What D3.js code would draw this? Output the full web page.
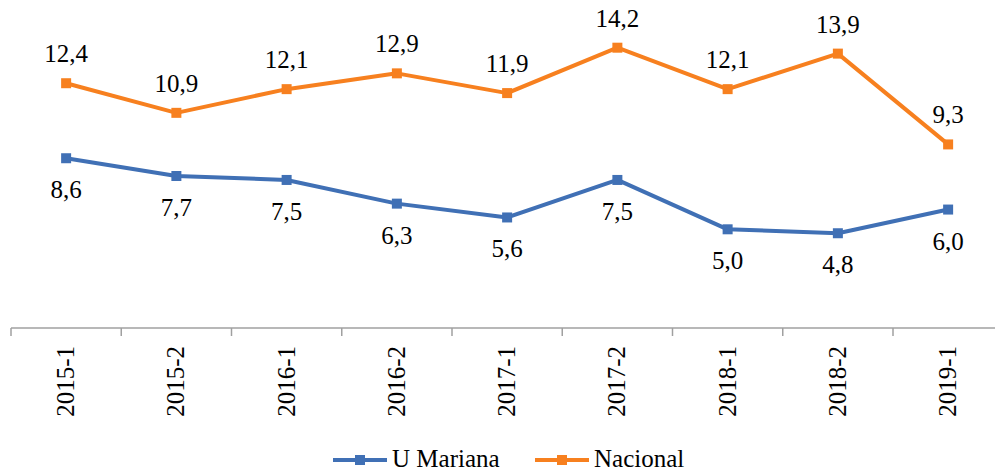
<!DOCTYPE html>
<html>
<head>
<meta charset="utf-8">
<script src="https://cdn.jsdelivr.net/npm/d3@7"></script>
</head>
<body style="margin:0">
<script>
// categories and series values
var periods = ["2015-1", "2015-2", "2016-1", "2016-2", "2017-1", "2017-2", "2018-1", "2018-2", "2019-1"];
var uMariana = [8.6, 7.7, 7.5, 6.3, 5.6, 7.5, 5.0, 4.8, 6.0];
var nacional = [12.4, 10.9, 12.1, 12.9, 11.9, 14.2, 12.1, 13.9, 9.3];
var seriesNames = ["U Mariana", "Nacional"];
var colors = ["#4070B5", "#F7801F"];

var W = 995, H = 471;
var margin = { top: 12, left: 11, bottom: 143 };
var bandW = 110.25;
var fontFam = "'Liberation Serif'";
var fontSize = "25px";

var svg = d3.select("body").append("svg")
  .attr("width", W)
  .attr("height", H)
  .style("display", "block")
  .style("font-family", fontFam);

// x scale: band per period
var x = d3.scaleBand()
  .domain(periods)
  .range([margin.left, margin.left + bandW * periods.length]);

var y = d3.scaleLinear()
  .domain([0, 16])
  .range([H - margin.bottom, H - margin.bottom - 16 * 19.74]);

var axisY = y(0);

// axis line with ticks between categories
var axisG = svg.append("g").attr("transform", "translate(0," + axisY + ")");
axisG.append("line")
  .attr("x1", x.range()[0]).attr("x2", x.range()[1])
  .attr("y1", 0).attr("y2", 0)
  .style("stroke", "#A0A0A0")
  .style("stroke-width", 1.5);
axisG.selectAll(".tick")
  .data(d3.range(periods.length + 1))
  .enter().append("line")
  .attr("class", "tick")
  .attr("x1", function (d) { return x.range()[0] + d * x.step(); })
  .attr("x2", function (d) { return x.range()[0] + d * x.step(); })
  .attr("y1", 0).attr("y2", 8)
  .style("stroke", "#A0A0A0")
  .style("stroke-width", 1.5);

// rotated category labels
axisG.selectAll(".catLabel")
  .data(periods)
  .enter().append("text")
  .attr("class", "catLabel")
  .attr("transform", function (d) {
    return "translate(" + (x(d) + x.bandwidth() / 2 + 8) + ",18) rotate(-90)";
  })
  .attr("text-anchor", "end")
  .style("font-family", fontFam)
  .style("font-size", fontSize)
  .attr("fill", "#000")
  .text(function (d) { return d; });

var line = d3.line()
  .x(function (d, i) { return x(periods[i]) + x.bandwidth() / 2; })
  .y(function (d) { return y(d); });

var fmt = function (v) { return d3.format(".1f")(v).replace(".", ","); };

[uMariana, nacional].forEach(function (vals, s) {
  var g = svg.append("g").attr("class", "series");
  g.append("path")
    .attr("d", line(vals))
    .style("fill", "none")
    .style("stroke", colors[s])
    .style("stroke-width", 4)
    .style("stroke-linejoin", "round");
  g.selectAll("rect")
    .data(vals)
    .enter().append("rect")
    .attr("x", function (d, i) { return x(periods[i]) + x.bandwidth() / 2 - 5; })
    .attr("y", function (d) { return y(d) - 5; })
    .attr("width", 10).attr("height", 10)
    .style("fill", colors[s]);
  // labels: blue below, orange above
  g.selectAll("text")
    .data(vals)
    .enter().append("text")
    .attr("x", function (d, i) { return x(periods[i]) + x.bandwidth() / 2; })
    .attr("y", function (d) { return s === 0 ? y(d) + 40 : y(d) - 21; })
    .attr("text-anchor", "middle")
    .style("font-family", fontFam)
    .style("font-size", fontSize)
    .attr("fill", "#000")
    .text(fmt);
});

// legend
var legend = svg.append("g").attr("class", "legend");
var legendX = [333, 535];
seriesNames.forEach(function (name, s) {
  var lx = legendX[s], ly = 460;
  legend.append("line")
    .attr("x1", lx).attr("x2", lx + 54)
    .attr("y1", ly).attr("y2", ly)
    .style("stroke", colors[s])
    .style("stroke-width", 4);
  legend.append("rect")
    .attr("x", lx + 22).attr("y", ly - 5)
    .attr("width", 10).attr("height", 10)
    .style("fill", colors[s]);
  legend.append("text")
    .attr("x", lx + 59).attr("y", ly + 7)
    .style("font-family", fontFam)
    .style("font-size", fontSize)
    .attr("fill", "#000")
    .text(name);
});
</script>
</body>
</html>
